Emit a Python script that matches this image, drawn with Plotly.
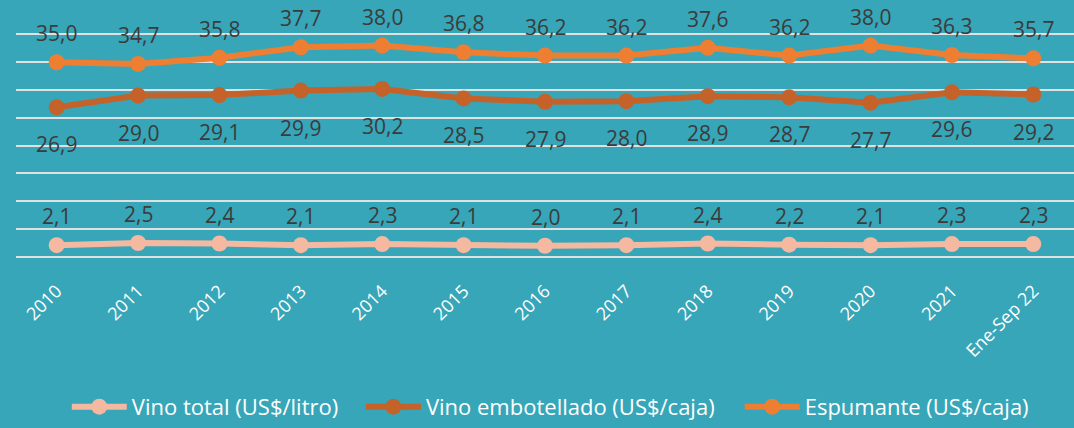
import plotly.graph_objects as go

categories = ["2010", "2011", "2012", "2013", "2014", "2015", "2016", "2017",
              "2018", "2019", "2020", "2021", "Ene-Sep 22"]
vino_total = [2.1, 2.5, 2.4, 2.1, 2.3, 2.1, 2.0, 2.1, 2.4, 2.2, 2.1, 2.3, 2.3]
vino_embotellado = [26.9, 29.0, 29.1, 29.9, 30.2, 28.5, 27.9, 28.0, 28.9, 28.7, 27.7, 29.6, 29.2]
espumante = [35.0, 34.7, 35.8, 37.7, 38.0, 36.8, 36.2, 36.2, 37.6, 36.2, 38.0, 36.3, 35.7]

series = [
    ("Vino total (US$/litro)", vino_total, "#f5b8a0", 29, "legend", 0.048),
    ("Vino embotellado (US$/caja)", vino_embotellado, "#c5622a", -37, "legend2", 0.326),
    ("Espumante (US$/caja)", espumante, "#ee7e32", 29, "legend3", 0.684),
]

BG = "#37a6b8"
LABEL_FONT = dict(family="Open Sans", size=21, color="#3b3b3b")
LEG_FONT = dict(family="Open Sans", size=22, color="white")

fig = go.Figure()
annotations = []
legends = {}
for name, vals, color, shift, leg, lx in series:
    fig.add_trace(go.Scatter(
        x=list(range(len(categories))), y=vals, name=name, mode="lines+markers",
        line=dict(color=color, width=6),
        marker=dict(color=color, size=16),
        legend=leg,
    ))
    legends[leg] = dict(orientation="h", x=lx, xanchor="left", y=-0.56, yanchor="middle",
                        font=LEG_FONT, bgcolor="rgba(0,0,0,0)", itemwidth=55)
    for i, v in enumerate(vals):
        annotations.append(dict(
            x=i, y=v, xref="x", yref="y", text=f"{v:.1f}".replace(".", ","),
            showarrow=False, yshift=shift, font=LABEL_FONT,
        ))

fig.update_layout(
    width=1074, height=428,
    paper_bgcolor=BG, plot_bgcolor=BG,
    margin=dict(l=16, r=0, t=20, b=158),
    annotations=annotations,
    showlegend=True,
    xaxis=dict(range=[-0.5, 12.5], showgrid=False, zeroline=False, showline=False,
               tickmode="array", tickvals=list(range(len(categories))), ticktext=categories,
               tickangle=-45, tickfont=dict(family="Open Sans", size=18, color="white"),
               ticks="", ticklabelstandoff=8),
    yaxis=dict(range=[-2, 42.6], dtick=5, tick0=0, showticklabels=False,
               showgrid=True, gridcolor="#e0e0e0", gridwidth=2, zeroline=False,
               showline=False),
    **legends,
)

fig.write_html("out.html", config={"displayModeBar": False},
               post_script="document.body.style.margin='0';document.body.style.overflow='hidden';")
